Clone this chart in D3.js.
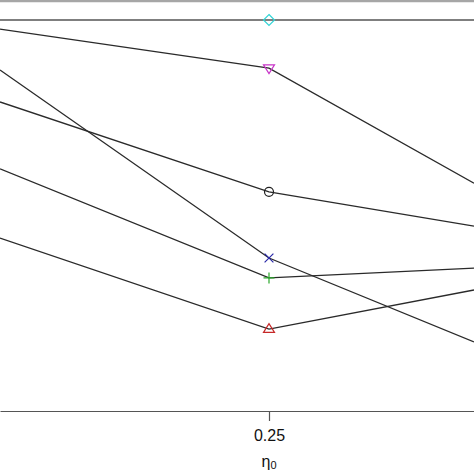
<!DOCTYPE html>
<html lang="en">
<head>
    <meta charset="UTF-8">
    <title>Power by eta0</title>
    <script src="https://d3js.org/d3.v7.min.js"></script>
    <style>
        body { margin: 0; background: #fff; }
        svg { display: block; }
        text { font-family: "Liberation Sans", Arial, sans-serif; fill: #111; }
    </style>
</head>
<body>
<div id="chart"></div>
<script>

// eta0 positions: the visible crop edges and the 0.25 tick
var etaValues = [0.1, 0.25, 0.4];
var tickValues = [0.25];

// one array of values per series
var diamondSeries  = [1.000, 1.000, 1.000];
var nablaSeries    = [0.976, 0.872, 0.566];
var crossSeries    = [0.867, 0.367, 0.144];
var circleSeries   = [0.782, 0.543, 0.452];
var plusSeries     = [0.604, 0.314, 0.340];
var triangleSeries = [0.420, 0.178, 0.282];

var series = [
    { name: 'diamond',  values: diamondSeries,  color: '#33d4d6' },
    { name: 'nabla',    values: nablaSeries,    color: '#c834c8' },
    { name: 'cross',    values: crossSeries,    color: '#2a2aa8' },
    { name: 'circle',   values: circleSeries,   color: '#222222' },
    { name: 'plus',     values: plusSeries,     color: '#2aa82a' },
    { name: 'triangle', values: triangleSeries, color: '#c62828' }
];

var width = 474, height = 474;

var svg = d3.select('#chart').append('svg')
    .attr('width', width)
    .attr('height', height);

// piecewise scale: left crop edge, tick, right crop edge
var x = d3.scaleLinear()
    .domain(etaValues)
    .range([0, 269, width]);

var y = d3.scaleLinear()
    .domain([0, 1])
    .range([396, 20]);

var axisY = 411;

// top of the plot box
svg.append('line')
    .attr('x1', 0).attr('x2', width)
    .attr('y1', 1).attr('y2', 1)
    .attr('stroke', '#a6a6a6')
    .attr('stroke-width', 2.5);

// bottom axis
var xAxis = d3.axisBottom(x)
    .tickValues(tickValues)
    .tickFormat(d3.format('.2f'))
    .tickSize(10)
    .tickSizeOuter(0);

var gx = svg.append('g')
    .attr('transform', 'translate(0,' + axisY + ')')
    .call(xAxis);

gx.select('.domain')
    .attr('stroke', '#555')
    .attr('stroke-width', 1.2);
gx.selectAll('.tick line')
    .attr('stroke', '#555')
    .attr('stroke-width', 1.2);
gx.selectAll('.tick text')
    .attr('y', 19)
    .style('font-size', '16px')
    .style('font-family', '"Liberation Sans", Arial, sans-serif')
    .attr('fill', '#111');

// axis title eta_0
var title = svg.append('text')
    .attr('x', x(0.25))
    .attr('y', 467)
    .attr('text-anchor', 'middle')
    .style('font-size', '16px');
title.append('tspan').text('\u03b7');
title.append('tspan')
    .style('font-size', '11px')
    .attr('dy', 2)
    .text('0');

// lines
var line = d3.line()
    .x(function(d, i) { return x(etaValues[i]); })
    .y(function(d) { return y(d); });

svg.selectAll('path.series')
    .data(series)
    .enter()
    .append('path')
    .attr('class', 'series')
    .attr('d', function(d) { return line(d.values); })
    .attr('fill', 'none')
    .attr('stroke', function(d) { return d.name === 'diamond' ? '#555' : '#2a2a2a'; })
    .attr('stroke-width', 1.3);

// markers at eta0 = 0.25 (R pch 1..6 style)
var s = 5.5;
function markerPath(name) {
    switch (name) {
        case 'diamond':  return 'M0,' + (-s) + 'L' + s + ',0L0,' + s + 'L' + (-s) + ',0Z';
        case 'nabla':    return 'M' + (-s) + ',' + (-s * 0.6) + 'L' + s + ',' + (-s * 0.6) + 'L0,' + (s * 1.0) + 'Z';
        case 'triangle': return 'M' + (-s) + ',' + (s * 0.6) + 'L' + s + ',' + (s * 0.6) + 'L0,' + (-s * 1.0) + 'Z';
        case 'cross':    return 'M' + (-s * 0.8) + ',' + (-s * 0.8) + 'L' + (s * 0.8) + ',' + (s * 0.8) +
                                'M' + (-s * 0.8) + ',' + (s * 0.8) + 'L' + (s * 0.8) + ',' + (-s * 0.8);
        case 'plus':     return 'M' + (-s) + ',0L' + s + ',0M0,' + (-s) + 'L0,' + s;
    }
    return null;
}

var markers = svg.selectAll('g.marker')
    .data(series)
    .enter()
    .append('g')
    .attr('class', 'marker')
    .attr('transform', function(d) { return 'translate(' + x(0.25) + ',' + y(d.values[1]) + ')'; });

markers.each(function(d) {
    var g = d3.select(this);
    if (d.name === 'circle') {
        g.append('circle')
            .attr('r', 4.5)
            .attr('fill', 'none')
            .attr('stroke', d.color)
            .attr('stroke-width', 1.2);
    } else {
        g.append('path')
            .attr('d', markerPath(d.name))
            .attr('fill', 'none')
            .attr('stroke', d.color)
            .attr('stroke-width', 1.2);
    }
});

</script>
</body>
</html>
